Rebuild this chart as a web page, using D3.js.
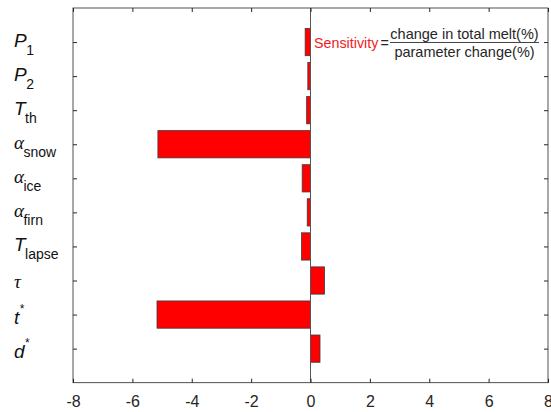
<!DOCTYPE html>
<html>
<head>
<meta charset="utf-8">
<script src="https://cdn.jsdelivr.net/npm/d3@7"></script>
<style>
  html, body { margin: 0; padding: 0; background: #fff; }
  svg { display: block; }
  text { font-family: Arial, "Liberation Sans", sans-serif; }
</style>
</head>
<body>
<svg id="chart" width="551" height="412"></svg>
<script>
// Parameter symbols: main glyph, subscript / superscript, and whether the glyph is Greek
const paramSymbols = ["P", "P", "T", "α", "α", "α", "T", "τ", "t", "d"];
const paramSubs    = ["1", "2", "th", "snow", "ice", "firn", "lapse", "", "", ""];
const paramSups    = ["", "", "", "", "", "", "", "", "*", "*"];
const paramGreek   = [false, false, false, true, true, true, false, true, false, false];
// Sensitivity of total melt to each parameter
const sensitivity  = [-0.18, -0.09, -0.13, -5.14, -0.28, -0.11, -0.30, 0.47, -5.17, 0.32];
const xTicks       = [-8, -6, -4, -2, 0, 2, 4, 6, 8];

const svg = d3.select("#chart");
const plotL = 73, plotR = 548, plotT = 8, plotB = 382.7;
const axisColor = "#262626";

const x = d3.scaleLinear().domain([-8, 8]).range([plotL, plotR]);
// categories 1..10 inside a [0, 11] range, first at the top
const y = d3.scaleLinear().domain([0, 11]).range([plotT, plotB]);
const barH = (y(1) - y(0)) * 0.8;

// bars
svg.append("g").selectAll("rect")
  .data(sensitivity)
  .join("rect")
  .attr("x", d => x(Math.min(0, d)))
  .attr("y", (d, i) => y(i + 1) - barH / 2)
  .attr("width", d => Math.abs(x(d) - x(0)))
  .attr("height", barH)
  .attr("fill", "#ff0000")
  .attr("stroke", "#3a3a3a")
  .attr("stroke-width", 0.8);

// baseline at zero
svg.append("line")
  .attr("x1", x(0)).attr("x2", x(0))
  .attr("y1", plotT).attr("y2", plotB)
  .attr("stroke", "#555").attr("stroke-width", 1);

// box
svg.append("rect")
  .attr("x", plotL).attr("y", plotT)
  .attr("width", plotR - plotL).attr("height", plotB - plotT)
  .attr("fill", "none").attr("stroke", axisColor).attr("stroke-width", 0.8);

// bottom axis, ticks pointing inward
const xAxis = d3.axisBottom(x).tickValues(xTicks).tickSize(-4).tickPadding(13)
  .tickFormat(d => d < 0 ? "-" + Math.abs(d) : String(d));
const gx = svg.append("g").attr("transform", `translate(0,${plotB})`).call(xAxis);
gx.select(".domain").remove();
gx.selectAll("line").attr("stroke", axisColor);
gx.selectAll("text").attr("font-size", 16).attr("fill", axisColor)
  .attr("font-family", "Arial, 'Liberation Sans', sans-serif");

// top mirrored ticks
const gxt = svg.append("g").attr("transform", `translate(0,${plotT})`)
  .call(d3.axisTop(x).tickValues(xTicks).tickSize(-4).tickFormat(""));
gxt.select(".domain").remove();
gxt.selectAll("line").attr("stroke", axisColor);

// left and right ticks
const cats = d3.range(1, 11);
const gyl = svg.append("g").attr("transform", `translate(${plotL},0)`)
  .call(d3.axisLeft(y).tickValues(cats).tickSize(-4).tickFormat(""));
gyl.select(".domain").remove();
gyl.selectAll("line").attr("stroke", axisColor);
const gyr = svg.append("g").attr("transform", `translate(${plotR},0)`)
  .call(d3.axisRight(y).tickValues(cats).tickSize(-4).tickFormat(""));
gyr.select(".domain").remove();
gyr.selectAll("line").attr("stroke", axisColor);

// category labels with sub/superscripts
const labels = svg.append("g");
paramSymbols.forEach((s, i) => {
  const cy = y(i + 1);
  let base = cy + 5;
  if (paramSups[i]) base = cy + 9;
  else if (!paramSubs[i]) base = cy + 7;
  const t = labels.append("text")
    .attr("x", 14).attr("y", base)
    .attr("fill", "#111");
  t.append("tspan")
    .attr("font-size", 19)
    .attr("font-style", "italic")
    .attr("font-family", paramGreek[i] ? "'Liberation Serif', 'Times New Roman', serif" : "Arial, 'Liberation Sans', sans-serif")
    .text(s);
  if (paramSubs[i]) {
    t.append("tspan").attr("font-size", 14).attr("dy", 8).attr("dx", -0.5).text(paramSubs[i]);
  }
  if (paramSups[i]) {
    t.append("tspan").attr("font-size", 12).attr("dy", -11).attr("dx", 0.5).text(paramSups[i]);
  }
});

// formula annotation
const ann = svg.append("g");
ann.append("text").attr("x", 314).attr("y", 48)
  .attr("font-size", 14.3).attr("fill", "#ee1c25").text("Sensitivity");
ann.append("text").attr("x", 380.5).attr("y", 48)
  .attr("font-size", 14.3).attr("fill", axisColor).text("=");
ann.append("line").attr("x1", 390).attr("x2", 539).attr("y1", 42.5).attr("y2", 42.5)
  .attr("stroke", "#444").attr("stroke-width", 1);
ann.append("text").attr("x", 464.5).attr("y", 38.5).attr("text-anchor", "middle")
  .attr("font-size", 14.5).attr("fill", axisColor).text("change in total melt(%)");
ann.append("text").attr("x", 464.5).attr("y", 57).attr("text-anchor", "middle")
  .attr("font-size", 14.5).attr("fill", axisColor).text("parameter change(%)");
</script>
</body>
</html>
